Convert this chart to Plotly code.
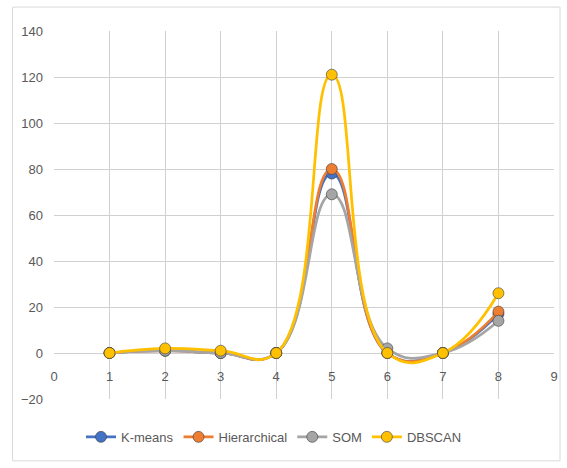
import plotly.graph_objects as go

x_vals = [1, 2, 3, 4, 5, 6, 7, 8]
kmeans = [0, 1, 0, 0, 78, 0, 0, 17]
hierarchical = [0, 1, 0, 0, 80, 0, 0, 18]
som = [0, 1, 0, 0, 69, 2, 0, 14]
dbscan = [0, 2, 1, 0, 121, 0, 0, 26]

series_names = ["K-means", "Hierarchical", "SOM", "DBSCAN"]
series_vals = [kmeans, hierarchical, som, dbscan]
colors = ["#4472C4", "#ED7D31", "#A5A5A5", "#FFC000"]

x_ticks = [0, 1, 2, 3, 4, 5, 6, 7, 8, 9]
y_ticks = [-20, 0, 20, 40, 60, 80, 100, 120, 140]

fig = go.Figure()
for name, vals, c in zip(series_names, series_vals, colors):
    fig.add_trace(go.Scatter(
        x=x_vals, y=vals, name=name, mode="lines+markers",
        line=dict(color=c, width=2.75, shape="spline", smoothing=1.3),
        marker=dict(color=c, size=11, line=dict(color="rgba(60,60,60,0.6)", width=1)),
    ))

font = "Liberation Sans Narrow, Liberation Sans, Arial"
fig.update_layout(
    width=567, height=468,
    margin=dict(l=54, r=13, t=31, b=69, autoexpand=False),
    paper_bgcolor="white", plot_bgcolor="white",
    font=dict(family=font, size=13, color="#595959"),
    showlegend=True,
    legend=dict(orientation="h", x=0.44, xanchor="center", y=-0.103, yanchor="middle",
                font=dict(family=font, size=13, color="#595959"), itemwidth=30,
                tracegroupgap=0),
    xaxis=dict(range=[0, 9], tickvals=x_ticks, showgrid=True, gridcolor="#D0D0D0",
               gridwidth=1, zeroline=False, showline=False, anchor="free",
               position=0.125, ticks="", ticklen=0, ticklabelstandoff=14,
               fixedrange=True),
    yaxis=dict(range=[-20, 140], tickvals=y_ticks, showgrid=True, gridcolor="#D0D0D0",
               gridwidth=1, zeroline=False, showline=False, ticks="",
               ticklabelstandoff=10, fixedrange=True),
    shapes=[dict(type="rect", xref="paper", yref="paper", x0=-0.083, x1=1.012,
                 y0=-0.168, y1=1.065, line=dict(color="#D9D9D9", width=1))],
)
fig.write_html("out.html")
